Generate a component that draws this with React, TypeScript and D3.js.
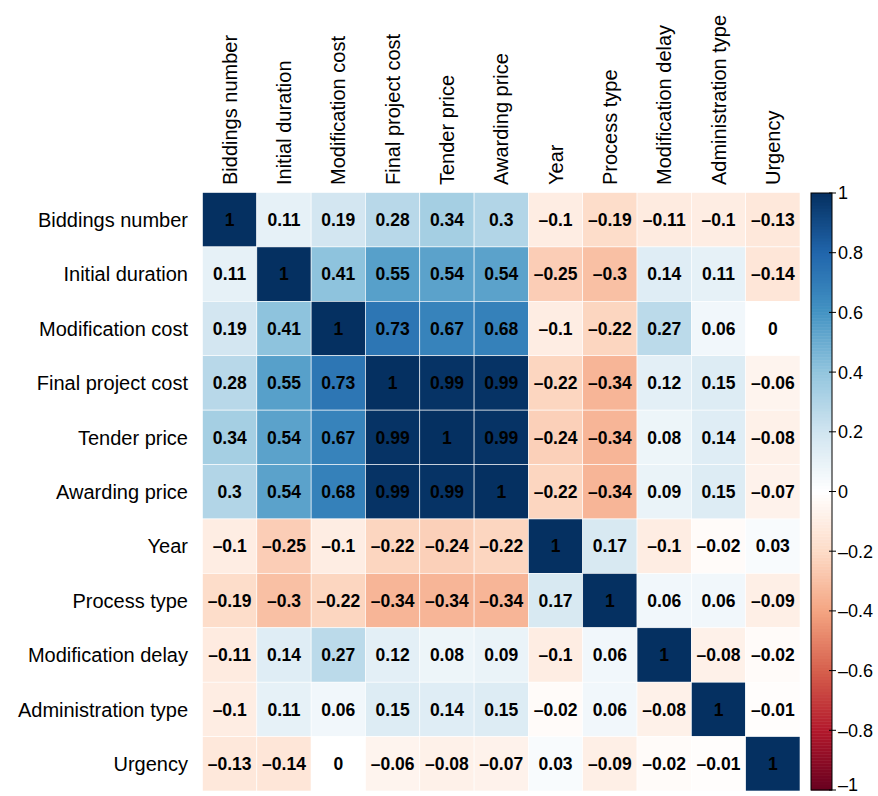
import React from "react";
import * as d3 from "d3";

const labels = ["Biddings number", "Initial duration", "Modification cost", "Final project cost",
  "Tender price", "Awarding price", "Year", "Process type", "Modification delay",
  "Administration type", "Urgency"];

const matrix = [
  [1, 0.11, 0.19, 0.28, 0.34, 0.3, -0.1, -0.19, -0.11, -0.1, -0.13],
  [0.11, 1, 0.41, 0.55, 0.54, 0.54, -0.25, -0.3, 0.14, 0.11, -0.14],
  [0.19, 0.41, 1, 0.73, 0.67, 0.68, -0.1, -0.22, 0.27, 0.06, 0],
  [0.28, 0.55, 0.73, 1, 0.99, 0.99, -0.22, -0.34, 0.12, 0.15, -0.06],
  [0.34, 0.54, 0.67, 0.99, 1, 0.99, -0.24, -0.34, 0.08, 0.14, -0.08],
  [0.3, 0.54, 0.68, 0.99, 0.99, 1, -0.22, -0.34, 0.09, 0.15, -0.07],
  [-0.1, -0.25, -0.1, -0.22, -0.24, -0.22, 1, 0.17, -0.1, -0.02, 0.03],
  [-0.19, -0.3, -0.22, -0.34, -0.34, -0.34, 0.17, 1, 0.06, 0.06, -0.09],
  [-0.11, 0.14, 0.27, 0.12, 0.08, 0.09, -0.1, 0.06, 1, -0.08, -0.02],
  [-0.1, 0.11, 0.06, 0.15, 0.14, 0.15, -0.02, 0.06, -0.08, 1, -0.01],
  [-0.13, -0.14, 0, -0.06, -0.08, -0.07, 0.03, -0.09, -0.02, -0.01, 1],
];

const legendTicks = [1, 0.8, 0.6, 0.4, 0.2, 0, -0.2, -0.4, -0.6, -0.8, -1];

// RdBu palette used by corrplot
const palette = ["#67001F", "#B2182B", "#D6604D", "#F4A582", "#FDDBC7", "#FFFFFF",
  "#D1E5F0", "#92C5DE", "#4393C3", "#2166AC", "#053061"];

const font = "Liberation Sans, Arial, sans-serif";
const W = 878, H = 796;
const gx0 = 202.5, gx1 = 800, gy0 = 192.5, gy1 = 791;
const barX = 811, barW = 21;

function fmt(v: number) {
  const s = String(v);
  return v < 0 ? "\u2013" + s.slice(1) : s;
}

export default function App() {
  const x = d3.scaleBand<string>().domain(labels).range([gx0, gx1]);
  const y = d3.scaleBand<string>().domain(labels).range([gy0, gy1]);
  const color = d3.scaleLinear<string>()
    .domain(d3.range(11).map(i => -1 + i * 0.2))
    .range(palette)
    .interpolate(d3.interpolateRgb);
  const ly = d3.scaleLinear().domain([-1, 1]).range([gy1 - 1, gy0 + 0.5]);
  const steps = d3.range(200).map(i => -1 + (i + 0.5) * 0.01);

  return (
    <svg width={W} height={H} style={{ position: "absolute", left: 0, top: 0, background: "#fff" }}>
      {/* cells */}
      {matrix.map((row, i) => row.map((v, j) => (
        <g key={`${i}-${j}`}>
          <rect x={x(labels[j])} y={y(labels[i])} width={x.bandwidth()} height={y.bandwidth()}
            fill={color(v)} stroke="#fff" strokeWidth={0.6} />
          <text x={x(labels[j])! + x.bandwidth() / 2} y={y(labels[i])! + y.bandwidth() / 2}
            dy="0.36em" textAnchor="middle" fontFamily={font} fontWeight="bold" fontSize={17.5}
            fill="#000">{fmt(v)}</text>
        </g>
      )))}
      {/* row labels */}
      {labels.map(l => (
        <text key={"r" + l} x={188} y={y(l)! + y.bandwidth() / 2} dy="0.36em" textAnchor="end"
          fontFamily={font} fontSize={20} fill="#000">{l}</text>
      ))}
      {/* column labels */}
      {labels.map(l => (
        <text key={"c" + l} transform={`translate(${x(l)! + x.bandwidth() / 2},185) rotate(-90)`}
          dy="0.36em" textAnchor="start" fontFamily={font} fontSize={20} fill="#000">{l}</text>
      ))}
      {/* colour legend */}
      {steps.map(s => (
        <rect key={"s" + s} x={barX} y={ly(s + 0.005)} width={barW} height={Math.abs(ly(s - 0.005) - ly(s + 0.005)) + 0.5}
          fill={color(s)} />
      ))}
      <rect x={barX} y={ly(1)} width={barW} height={ly(-1) - ly(1)} fill="none" stroke="#000" strokeWidth={1} />
      {legendTicks.map(t => (
        <g key={"t" + t}>
          <line x1={barX + barW - 3} x2={barX + barW + 4} y1={ly(t)} y2={ly(t)} stroke="#000" strokeWidth={1} />
          <text x={barX + barW + 6} y={Math.min(ly(t), 785)} dy="0.36em" fontFamily={font} fontSize={18} fill="#000">{fmt(t)}</text>
        </g>
      ))}
    </svg>
  );
}
